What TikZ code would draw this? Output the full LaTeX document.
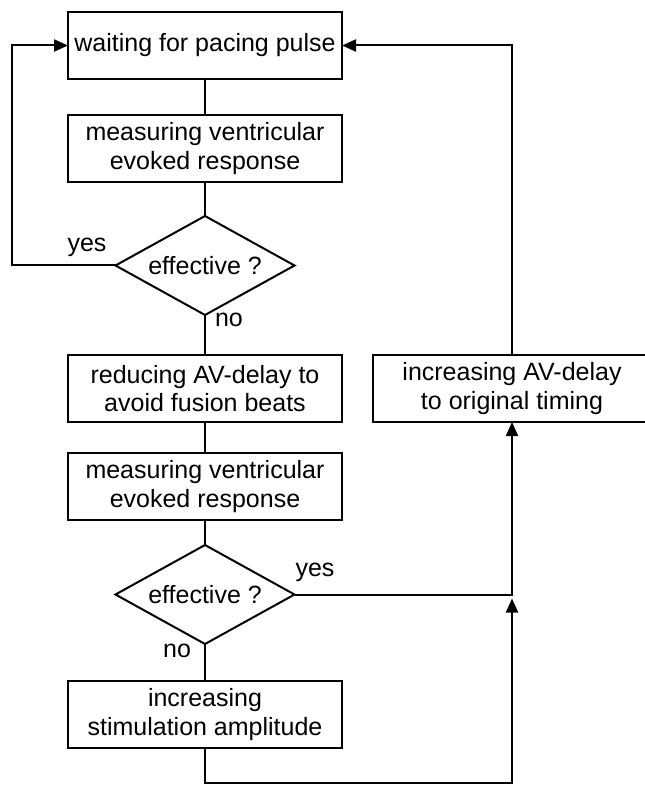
\documentclass[tikz,border=0pt]{standalone}
\usepackage{fontspec}
\setmainfont{Liberation Sans}
\usetikzlibrary{positioning,shapes.geometric,arrows.meta}

\begin{document}
\begin{tikzpicture}[font=\fontsize{12.5}{14.25}\selectfont,line width=1pt,
 box/.style={draw,minimum width=137pt,minimum height=33.5pt,inner sep=0pt,outer sep=0pt,align=center},
 dec/.style={draw,diamond,aspect=1.8,minimum width=89.5pt,minimum height=49.5pt,inner sep=0pt,outer sep=0pt},
 lbl/.style={inner sep=0pt},
 flow/.style={-{Triangle[length=7pt,width=6pt]}}]
\useasboundingbox (0,0) rectangle (322pt,-392.5pt);
\node[box] (wait) at (102.5pt,-22.75pt) {waiting for pacing pulse};
\node[box,below=18pt of wait] (meas1) {measuring ventricular\\evoked response};
\node[dec,below=17pt of meas1] (eff1) {effective ?};
\node[box,below=20pt of eff1] (redu) {reducing AV-delay to\\avoid fusion beats};
\node[box,below=15.5pt of redu] (meas2) {measuring ventricular\\evoked response};
\node[dec,below=12.5pt of meas2] (eff2) {effective ?};
\node[box,below=18.5pt of eff2] (ampl) {increasing\\stimulation amplitude};
\node[box,minimum width=139pt,right=15.5pt of redu] (incr) {increasing AV-delay\\to original timing};
% labels
\node[lbl,above left=3.9pt and 4pt of eff1.west] (yes1) {yes};
\node[lbl,below right=-1.5pt and 4.5pt of eff1.south] (no1) {no};
\node[lbl,above right=5.9pt and 0pt of eff2.east] (yes2) {yes};
\node[lbl,below left=-0.5pt and 6.5pt of eff2.south] (no2) {no};
% straight chain
\draw (wait) -- (meas1) -- (eff1) -- (redu) -- (meas2) -- (eff2) -- (ampl);
% loops
\coordinate (back) at ([xshift=-28pt]wait.west);
\draw[flow] (eff1.west) -| (back) -- (wait.west);
\draw[flow] (incr.north) |- (wait.east);
\draw[flow] (eff2.east) -| (incr.south);
\coordinate (jn) at ([yshift=-2pt]eff2.east -| incr.south);
\draw[flow] (ampl.south) -- ++(0,-17.5pt) -| (jn);
\end{tikzpicture}
\end{document}
